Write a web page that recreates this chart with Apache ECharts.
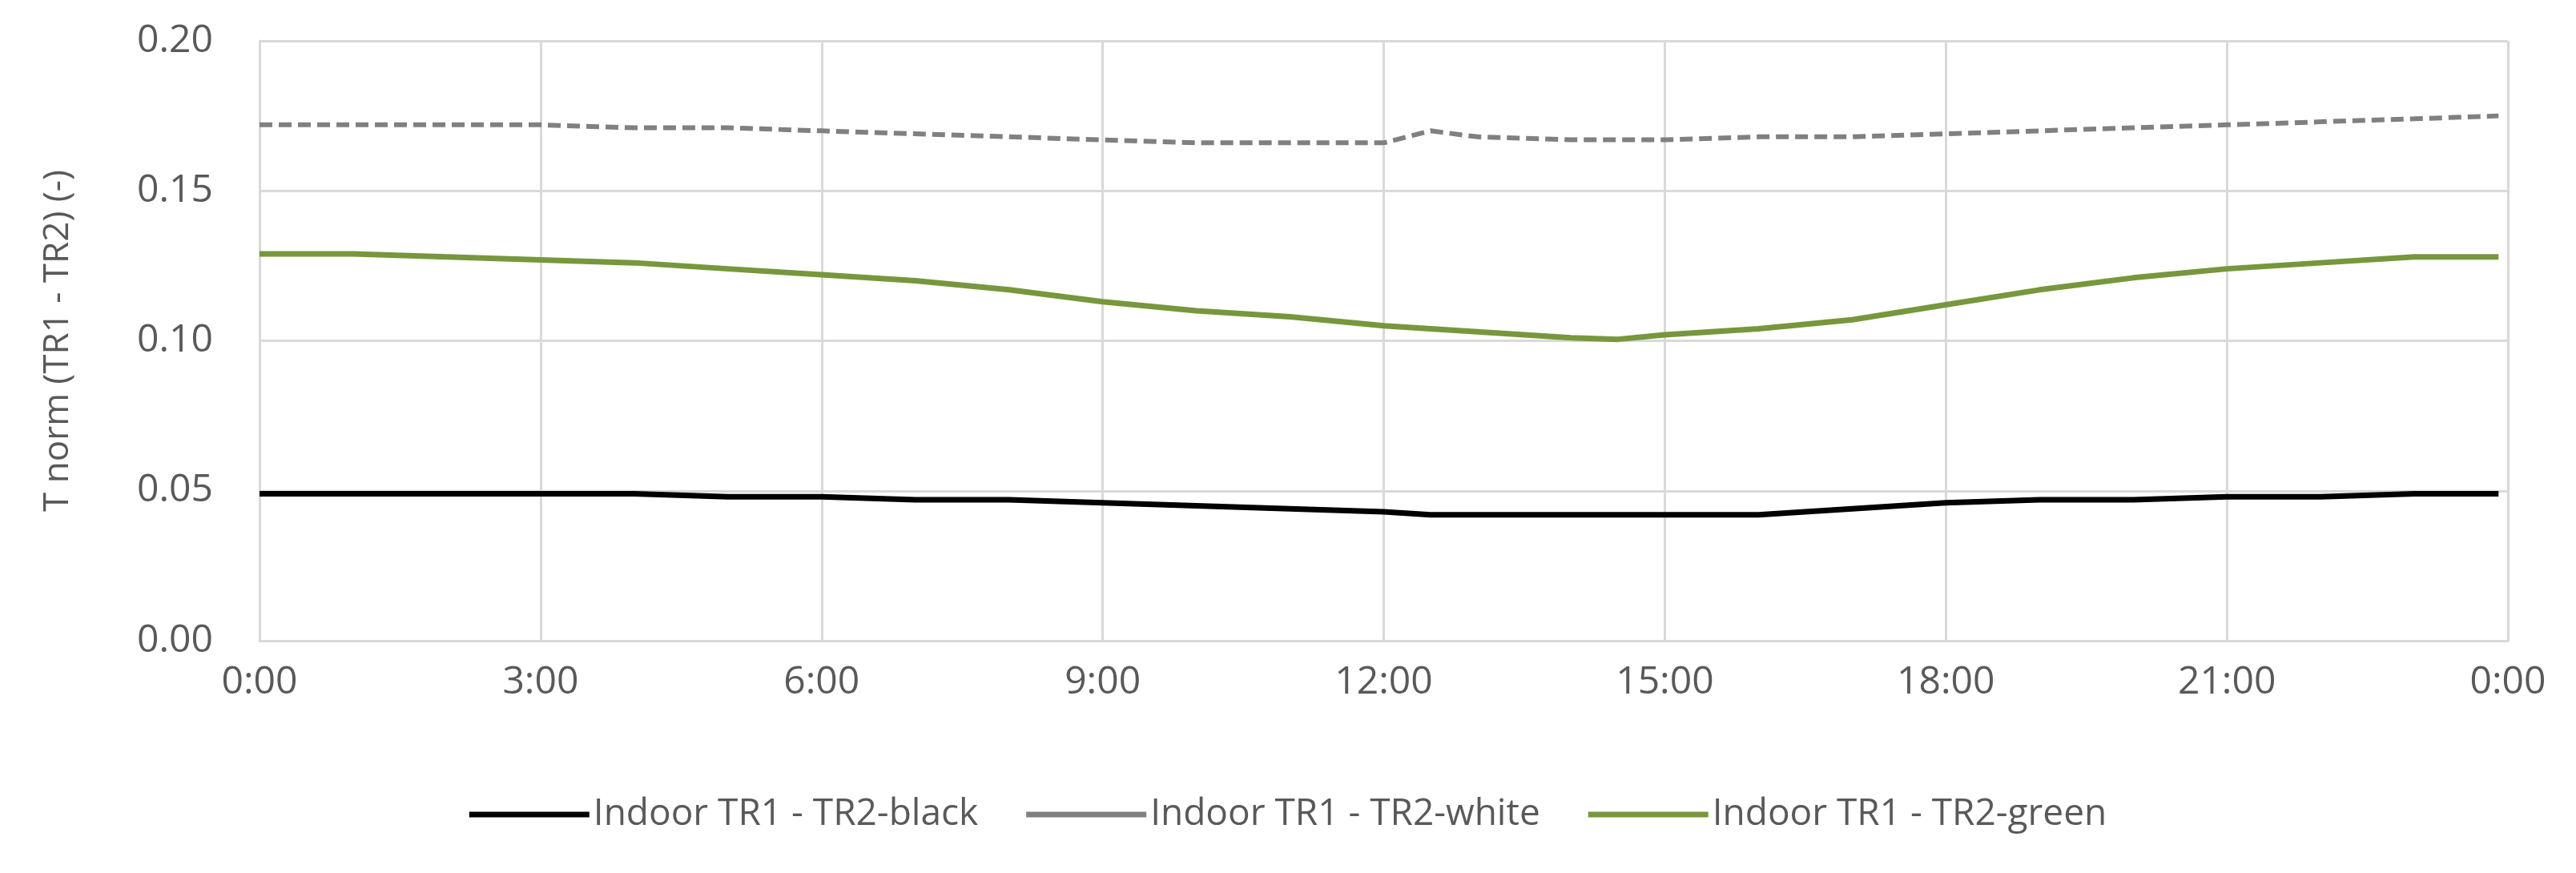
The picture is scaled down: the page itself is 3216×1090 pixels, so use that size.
<!DOCTYPE html>
<html>
<head>
<meta charset="utf-8">
<script src="https://cdn.jsdelivr.net/npm/echarts@6/dist/echarts.min.js"></script>
<style>html,body{margin:0;padding:0;background:#fff}#chart{width:3216px;height:1090px}</style>
</head>
<body>
<div id="chart"></div>
<script>
/* time in hours */
var hours = [0, 1, 2, 3, 4, 5, 6, 7, 8, 9, 10, 11, 12, 12.5, 13, 14, 14.5, 15, 16, 17, 18, 19, 20, 21, 22, 23, 23.9];
var black = [0.049, 0.049, 0.049, 0.049, 0.049, 0.048, 0.048, 0.047, 0.047, 0.046, 0.045, 0.044, 0.043, 0.042, 0.042, 0.042, 0.042, 0.042, 0.042, 0.044, 0.046, 0.047, 0.047, 0.048, 0.048, 0.049, 0.049];
var white = [0.172, 0.172, 0.172, 0.172, 0.171, 0.171, 0.170, 0.169, 0.168, 0.167, 0.166, 0.166, 0.166, 0.170, 0.168, 0.167, 0.167, 0.167, 0.168, 0.168, 0.169, 0.170, 0.171, 0.172, 0.173, 0.174, 0.175];
var green = [0.129, 0.129, 0.128, 0.127, 0.126, 0.124, 0.122, 0.120, 0.117, 0.113, 0.110, 0.108, 0.105, 0.104, 0.103, 0.101, 0.1005, 0.102, 0.104, 0.107, 0.112, 0.117, 0.121, 0.124, 0.126, 0.128, 0.128];
var names = ['Indoor TR1 - TR2-black', 'Indoor TR1 - TR2-white', 'Indoor TR1 - TR2-green'];

function pairs(ys){
	return hours.map(function(h, i){ return [h, ys[i]]; });
}
var font = 'Open Sans';
var txt = '#595959';
var mychart = echarts.init(document.getElementById('chart'));
var option = {
	animation: false,
	textStyle: {fontFamily: font},
	grid: {left: 324, right: 85, top: 51, bottom: 290},
	legend: {
		bottom: 45,
		itemWidth: 150,
		itemHeight: 7,
		itemGap: 60,
		icon: 'rect',
		textStyle: {color: txt, fontSize: 46, fontFamily: font},
		data: names
	},
	xAxis: {
		type: 'value', min: 0, max: 24, interval: 3,
		axisLine: {lineStyle: {color: '#d9d9d9', width: 3}},
		axisTick: {show: false},
		splitLine: {lineStyle: {color: '#d9d9d9', width: 3}},
		axisLabel: {color: txt, fontSize: 48, margin: 28,
			formatter: function(v){ return (v % 24) + ':00'; }}
	},
	yAxis: {
		type: 'value', min: 0, max: 0.2, interval: 0.05,
		name: 'T norm (TR1 - TR2) (-)', nameLocation: 'middle', nameGap: 230,
		nameTextStyle: {color: txt, fontSize: 44},
		axisLine: {show: true, lineStyle: {color: '#d9d9d9', width: 3}},
		axisTick: {show: false},
		splitLine: {lineStyle: {color: '#d9d9d9', width: 3}},
		axisLabel: {color: txt, fontSize: 48, margin: 58,
			formatter: function(v){ return v.toFixed(2); }}
	},
	series: [
		{name: names[0], type: 'line', data: pairs(black), showSymbol: false,
			lineStyle: {color: '#000000', width: 7}, itemStyle: {color: '#000000'}},
		{name: names[1], type: 'line', data: pairs(white), showSymbol: false,
			lineStyle: {color: '#808080', width: 6, type: [16, 8]}, itemStyle: {color: '#808080'}},
		{name: names[2], type: 'line', data: pairs(green), showSymbol: false,
			lineStyle: {color: '#77973d', width: 7}, itemStyle: {color: '#77973d'}}
	]
};
mychart.setOption(option);
</script>
</body>
</html>
